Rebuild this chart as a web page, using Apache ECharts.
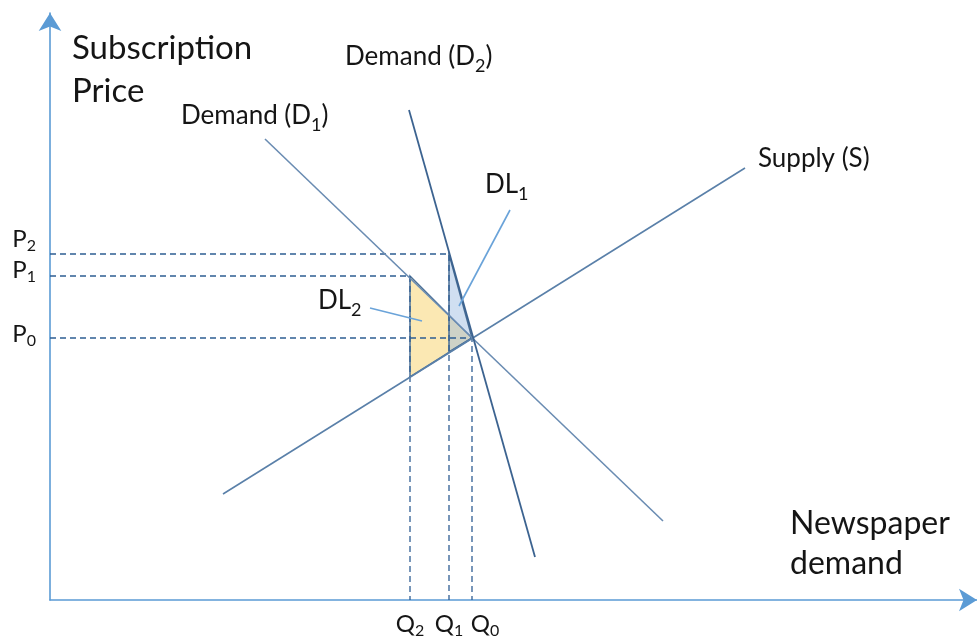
<!DOCTYPE html>
<html><head><meta charset="utf-8">
<script src="https://cdn.jsdelivr.net/npm/echarts@6/dist/echarts.min.js"></script>
<style>html,body{margin:0;padding:0;background:#fff}#c{width:977px;height:637px}</style>
</head><body><div id="c"></div>
<script>
// ---- data (abstract units: quantity on x, price on y) ----
const supplyLine  = [[173,106],[695,432]];
const demand1Line = [[215,461],[613,79]];
const demand2Line = [[359,490],[485,43]];
const priceValues = [262,324,346];           // P0, P1, P2
const priceNames  = ['P0','P1','P2'];
const qtyValues   = [360,399,422];           // Q2, Q1, Q0
const qtyNames    = ['Q2','Q1','Q0'];
// dashed guides: [quantity, price] corner of each guide
const guideQty    = [422,360,399];
const guidePrice  = [262,324,346];
const dl2Triangle = [[360,324],[360,223],[422,262]];
const dl1Triangle = [[399,346],[399,248],[422,262]];
const dl1Leader   = [[460,390],[409,294]];
const dl2Leader   = [[320,292],[372,279]];

const FONT = 'Lato';
const TXT = '#151515';

function lineSeries(data, color, width, z, dashed){
  return {type:'line', data, symbol:'none', silent:true, z:z||3, animation:false,
    lineStyle:{color, width, type: dashed ? [6,4] : 'solid'}};
}
function polySeries(points, fill, z){
  return {type:'custom', coordinateSystem:'cartesian2d', data:[[0,0]], silent:true, z, animation:false,
    renderItem:(p, api)=>({type:'polygon', shape:{points: points.map(pt=>api.coord(pt))},
      style:{fill, stroke:'#4a6f96', lineWidth:1.5}})};
}
const subRich = (size, sub)=>({
  m:{fontFamily:FONT, fontSize:size, color:TXT},
  s:{fontFamily:FONT, fontSize:sub, color:TXT, padding:[Math.round(size*0.7),0,0,0]}
});

const series = [];
series.push(polySeries(dl2Triangle, '#fbe8b3', 1));
series.push(polySeries(dl1Triangle, 'rgba(150,185,225,0.45)', 2));
guideQty.forEach((q,i)=>{
  series.push(lineSeries([[0,guidePrice[i]],[q,guidePrice[i]],[q,0]], '#2e5d93', 1.3, 2, true));
});
series.push(lineSeries(supplyLine, '#5a80a9', 1.6, 4));
series.push(lineSeries(demand1Line, '#6a8cb2', 1.6, 4));
series.push(lineSeries(demand2Line, '#3c6390', 1.8, 5));
series.push(lineSeries(dl1Leader, '#6aa3d9', 1.6, 6));
series.push(lineSeries(dl2Leader, '#6aa3d9', 1.6, 6));

function tickRich(names, mainSize, subSize, extra){
  const r = {};
  names.forEach(n=>{
    const e = extra[n] || [0,0,0,0];
    r[n+'m'] = {fontFamily:FONT,fontSize:mainSize,color:TXT,padding:[e[0],0,e[2],e[3]]};
    r[n+'s'] = {fontFamily:FONT,fontSize:subSize,color:TXT,padding:[e[0]+14,0,e[2],0]};
  });
  return r;
}
const pRich = tickRich(priceNames, 24, 16, {P0:[0,0,8,0], P1:[0,0,12,0], P2:[0,0,30,0]});
const qRich = tickRich(qtyNames, 24, 16, {Q0:[0,0,0,26]});
function tickFmt(values, names){
  return v=>{
    const i = values.indexOf(Math.round(v));
    if(i<0) return '';
    const n = names[i];
    return '{'+n+'m|'+n[0]+'}{'+n+'s|'+n[1]+'}';
  };
}

function txt(x, y, text, size, sub){
  return {type:'text', x, y, silent:true, style:{text, x:0, y:0, fontFamily:FONT, fontSize:size, fill:TXT,
    verticalAlign:'middle', align:'left', rich: sub ? subRich(size, sub) : undefined}};
}

const chart = echarts.init(document.getElementById('c'), null, {renderer:'canvas'});
chart.setOption({
  animation:false,
  backgroundColor:'#ffffff',
  grid:{left:50, right:0, top:13, bottom:37, containLabel:false, outerBoundsMode:'none'},
  xAxis:{type:'value', min:0, max:927,
    axisLine:{show:true, lineStyle:{color:'#5b9bd5', width:1.6}, symbol:['none','arrow'], symbolSize:[17,18]},
    axisTick:{show:false}, splitLine:{show:false},
    axisLabel:{show:true, customValues:qtyValues, margin:9, formatter:tickFmt(qtyValues,qtyNames), rich:qRich}},
  yAxis:{type:'value', min:0, max:587,
    axisLine:{show:true, lineStyle:{color:'#5b9bd5', width:1.6}, symbol:['none','arrow'], symbolSize:[17,18]},
    axisTick:{show:false}, splitLine:{show:false},
    axisLabel:{show:true, customValues:priceValues, margin:14, formatter:tickFmt(priceValues,priceNames), rich:pRich}},
  series,
  graphic:[
    txt(72, 48, 'Subscription', 33),
    txt(72, 91, 'Price', 33),
    txt(345, 57, '{m|Demand (D}{s|2}{m|)}', 26, 18),
    txt(181, 116, '{m|Demand (D}{s|1}{m|)}', 26, 18),
    txt(758, 159, 'Supply (S)', 26),
    txt(485, 185, '{m|DL}{s|1}', 26, 18),
    txt(318, 301, '{m|DL}{s|2}', 26, 18),
    txt(790, 524, 'Newspaper', 32),
    txt(790, 564, 'demand', 32)
  ]
});
</script></body></html>
